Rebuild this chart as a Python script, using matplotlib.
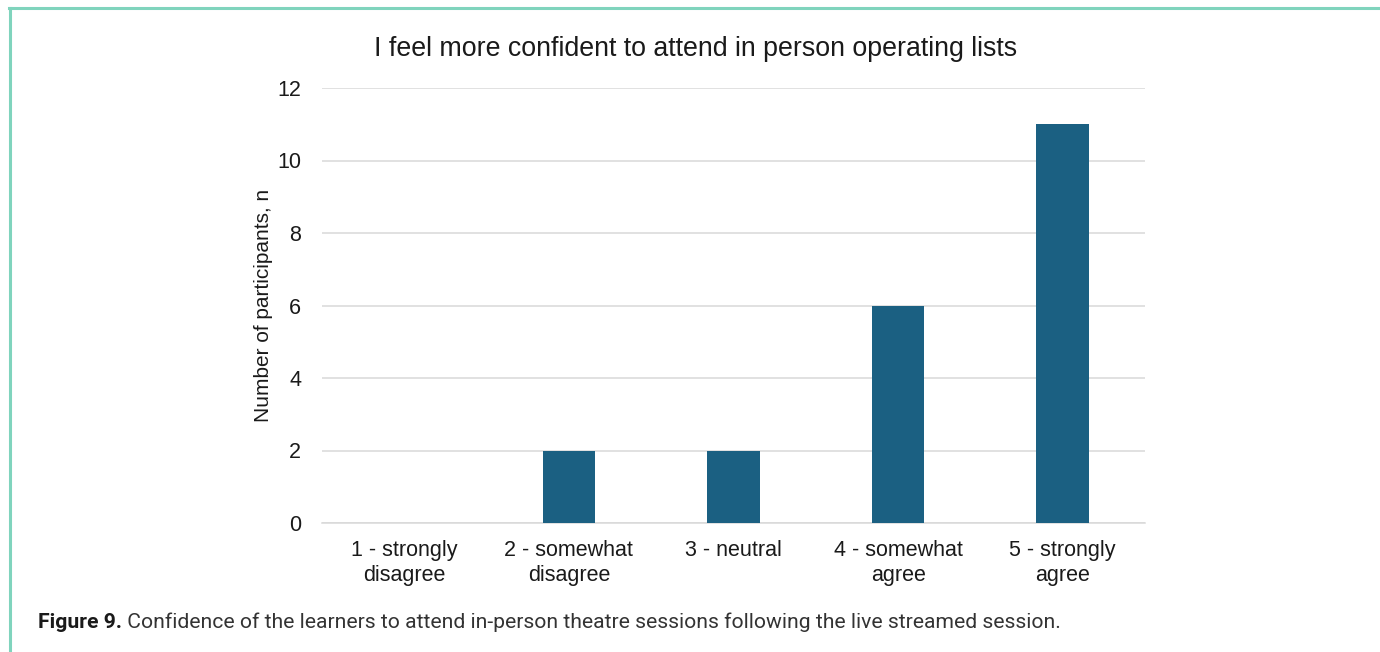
import matplotlib
matplotlib.use('Agg')
import matplotlib.pyplot as plt
from matplotlib.lines import Line2D

# survey responses
categories = ['1 - strongly\ndisagree', '2 - somewhat\ndisagree', '3 - neutral',
              '4 - somewhat\nagree', '5 - strongly\nagree']
counts = [0, 2, 2, 6, 11]
y_ticks = [0, 2, 4, 6, 8, 10, 12]

title = 'I feel more confident to attend in person operating lists'
caption_bold = 'Figure 9.'
caption_text = ' Confidence of the learners to attend in-person theatre sessions following the live streamed session.'

plt.rcParams['font.family'] = ['Liberation Sans', 'DejaVu Sans']

W, H = 1380, 652
fig = plt.figure(figsize=(W / 100, H / 100), dpi=100)

# teal frame on the left and top
frame_color = '#80d4bd'
fig.add_artist(Line2D([9.5 / W, 9.5 / W], [0, 1 - 7.5 / H], transform=fig.transFigure,
                      color=frame_color, lw=2.2))
fig.add_artist(Line2D([8.5 / W, 1], [1 - 7.5 / H, 1 - 7.5 / H], transform=fig.transFigure,
                      color=frame_color, lw=2.2))

# plot area in pixels: x 322..1145, y 88..523
ax = fig.add_axes([322 / W, 1 - 523 / H, (1145 - 322) / W, (523 - 88) / H])
x = range(len(categories))
ax.bar(x, counts, width=0.32, color='#1b6082', zorder=3)
ax.set_xlim(-0.5, len(categories) - 0.5)
ax.set_ylim(0, 12)
ax.set_yticks(y_ticks)
ax.set_yticklabels([str(v) for v in y_ticks], fontsize=15.5, color='#1a1a1a')
ax.set_xticks(list(x))
ax.set_xticklabels(categories, fontsize=15.5, color='#1a1a1a', linespacing=1.3)
ax.tick_params(axis='both', length=0)
ax.tick_params(axis='y', pad=15)
ax.tick_params(axis='x', pad=12)
ax.grid(axis='y', color='#d9d9d9', lw=1.1, zorder=0)
for side in ['top', 'right', 'left']:
    ax.spines[side].set_visible(False)
ax.spines['bottom'].set_color('#d9d9d9')
ax.spines['bottom'].set_linewidth(1.1)
ax.set_ylabel('Number of participants, n', fontsize=15, color='#1a1a1a', labelpad=3)

fig.text(696 / W, 1 - 49 / H, title, ha='center', va='center', fontsize=19.3, color='#1a1a1a')

# figure caption
t1 = fig.text(38 / W, 1 - 622 / H, caption_bold, ha='left', va='center', fontsize=15.2,
              fontweight='bold', family='Roboto', color='#1a1a1a')
fig.canvas.draw()
bb = t1.get_window_extent()
fig.text(bb.x1 / W, 1 - 622 / H, caption_text, ha='left', va='center', fontsize=15.2,
         family='Roboto', color='#333333')

fig.savefig('out.png', dpi=100)
